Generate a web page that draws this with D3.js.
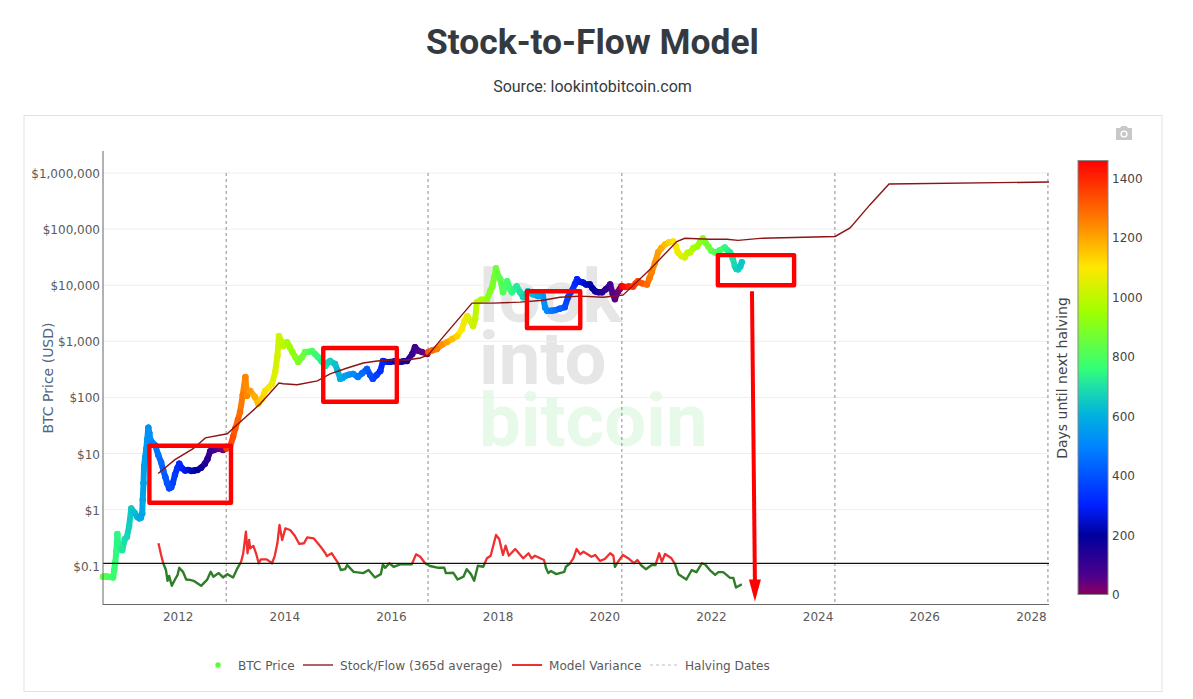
<!DOCTYPE html>
<html><head><meta charset="utf-8">
<script src="https://cdn.jsdelivr.net/npm/d3@7"></script>
<style>
html,body{margin:0;padding:0;background:#fff;overflow:hidden}
svg{display:block}
text{font-family:"DejaVu Sans",sans-serif}
</style></head><body><svg id="c" width="1193" height="699"></svg>
<script>
const btcYears=[
2010.59,2010.63,2010.68,2010.73,2010.78,2010.80,2010.82,2010.84,2010.86,2010.875,
2010.91,2010.95,2011.0,2011.04,2011.08,2011.12,2011.16,2011.19,2011.23,2011.27,
2011.30,2011.325,2011.335,2011.35,2011.36,2011.38,2011.40,2011.42,2011.44,2011.46,
2011.475,2011.52,2011.57,2011.625,2011.68,2011.72,2011.76,2011.79,2011.83,2011.87,
2011.90,2011.94,2011.98,2012.02,2012.07,2012.13,2012.19,2012.25,2012.30,2012.36,
2012.43,2012.50,2012.55,2012.60,2012.66,2012.72,2012.78,2012.84,2012.895,2012.905,
2012.97,2013.03,2013.07,2013.12,2013.16,2013.21,2013.26,2013.29,2013.35,2013.44,
2013.50,2013.57,2013.63,2013.70,2013.76,2013.82,2013.86,2013.89,2013.93,2013.97,
2014.04,2014.09,2014.14,2014.20,2014.25,2014.32,2014.38,2014.45,2014.51,2014.57,
2014.62,2014.69,2014.76,2014.81,2014.85,2014.94,2014.99,2015.04,2015.09,2015.13,
2015.20,2015.28,2015.37,2015.45,2015.54,2015.60,2015.65,2015.72,2015.79,2015.84,
2015.90,2015.97,2016.06,2016.16,2016.22,2016.29,2016.39,2016.44,2016.50,2016.57,
2016.67,2016.69,2016.76,2016.85,2016.95,2017.04,2017.14,2017.23,2017.32,2017.37,
2017.42,2017.48,2017.53,2017.57,2017.60,2017.68,2017.79,2017.85,2017.89,2017.93,
2017.96,2018.00,2018.04,2018.09,2018.13,2018.17,2018.21,2018.26,2018.30,2018.35,
2018.41,2018.47,2018.52,2018.56,2018.65,2018.75,2018.84,2018.88,2018.92,2019.00,
2019.07,2019.15,2019.25,2019.31,2019.36,2019.40,2019.44,2019.48,2019.53,2019.59,
2019.65,2019.72,2019.77,2019.82,2019.88,2019.95,2020.02,2020.10,2020.15,2020.19,
2020.24,2020.28,2020.31,2020.33,2020.38,2020.45,2020.53,2020.58,2020.62,2020.70,
2020.79,2020.84,2020.88,2020.94,2021.0,2021.06,2021.13,2021.20,2021.28,2021.33,
2021.37,2021.44,2021.50,2021.55,2021.60,2021.66,2021.73,2021.79,2021.84,2021.89,
2021.94,2022.00,2022.07,2022.16,2022.25,2022.30,2022.35,2022.40,2022.44,2022.47,
2022.50,2022.54,2022.57];
const btcPrices=[
.064,.065,.064,.063,.062,.085,.115,.18,.37,.24,
.21,.19,.3,.33,.51,1.05,.92,.86,.75,.7,
.72,.85,1.5,3,6,8.5,12,18,29,23,
18,15.5,14,9.5,7,5,3.8,3,2.4,2.5,
3,4.2,5.4,6.6,5.5,5,5.1,4.9,5,5.1,
5.6,6.6,8,11,11.5,12,12.2,11.6,12.5,12.3,
13,20,28,40,55,110,232,107,131,102,
77,95,131,150,175,285,550,1240,1000,825,
970,800,645,520,430,520,645,650,672,590,
526,440,364,420,447,395,300,214,225,242,
255,263,232,270,322,250,214,250,297,447,
430,430,440,430,440,447,594,790,680,645,
594,645,690,730,880,970,1100,1240,1650,2300,
2800,2300,1870,2500,4990,5500,5650,7800,9500,14000,
20000,15000,12800,7500,9500,11750,9000,7500,8500,9500,
7500,6100,7000,7800,6900,6400,6400,4000,3500,3500,
3600,3800,4070,6100,7500,8500,10500,12800,11500,11200,
10300,10300,8800,7800,7500,7500,8500,10300,7000,5650,
7500,8500,9500,9500,9300,9500,9500,10800,11750,10800,
10300,13500,17000,25000,38500,46000,53500,58000,60000,50000,
38500,33000,31400,38000,38500,46000,49000,60000,68000,57000,
49000,41000,38500,42000,47000,42000,38500,30000,21700,19500,
19200,21500,25700];
const s2fYears=[2011.625,2011.94,2012.28,2012.51,2012.92,2013.11,2013.54,2013.89,2013.97,2014.23,2014.61,2014.85,2015.17,2015.47,2015.73,2016.03,2016.29,2016.54,2016.69,2016.95,2017.51,2017.90,2018.41,2018.84,2019.16,2019.54,2019.97,2020.34,2020.85,2021.35,2021.50,2021.97,2022.29,2022.50,2022.91,2024.32,2024.60,2024.97,2025.33,2028.33];
const s2fValues=[4.4,7.8,12.2,19,22.5,33,77,181,175,168,197,263,335,411,447,465,465,505,570,1140,4800,4800,4990,5400,6100,6400,6100,6650,19200,60000,68500,66000,66000,63000,68500,74000,105000,270000,638000,690000];
const varYears=[
2011.63,2011.68,2011.72,2011.77,2011.80,2011.83,2011.88,2011.94,2011.99,2012.02,
2012.09,2012.15,2012.22,2012.29,2012.43,2012.54,2012.61,2012.66,2012.76,2012.84,
2012.92,2013.03,2013.11,2013.18,2013.22,2013.27,2013.30,2013.33,2013.35,2013.41,
2013.46,2013.51,2013.55,2013.66,2013.76,2013.81,2013.86,2013.90,2013.95,2014.01,
2014.10,2014.19,2014.27,2014.36,2014.42,2014.54,2014.66,2014.76,2014.79,2014.88,
2014.94,2015.00,2015.05,2015.13,2015.17,2015.29,2015.47,2015.57,2015.69,2015.80,
2015.84,2015.88,2015.96,2016.04,2016.16,2016.38,2016.46,2016.54,2016.63,2016.72,
2016.88,2016.99,2017.02,2017.16,2017.24,2017.35,2017.41,2017.49,2017.55,2017.62,
2017.72,2017.79,2017.86,2017.96,2018.02,2018.09,2018.14,2018.20,2018.32,2018.47,
2018.57,2018.63,2018.69,2018.79,2018.86,2018.90,2018.94,2018.99,2019.09,2019.24,
2019.27,2019.35,2019.41,2019.47,2019.54,2019.60,2019.75,2019.82,2019.91,2020.00,
2020.10,2020.16,2020.19,2020.23,2020.34,2020.46,2020.55,2020.61,2020.69,2020.77,
2020.88,2020.95,2021.02,2021.07,2021.13,2021.25,2021.32,2021.38,2021.53,2021.63,
2021.72,2021.82,2021.88,2021.97,2022.07,2022.13,2022.22,2022.35,2022.41,2022.46,
2022.57];
const varValues=[
.252,.156,.111,.084,.054,.066,.044,.057,.069,.092,
.078,.057,.056,.054,.044,.056,.078,.064,.074,.062,
.071,.062,.090,.118,.167,.405,.167,.288,.205,.226,
.167,.111,.130,.130,.111,.149,.252,.533,.288,.465,
.434,.34,.245,.252,.322,.309,.226,.167,.149,.167,
.136,.111,.084,.087,.103,.078,.074,.084,.062,.071,
.106,.092,.111,.096,.106,.106,.160,.145,.111,.099,
.092,.092,.074,.075,.057,.064,.087,.071,.054,.100,
.096,.136,.151,.354,.30,.156,.228,.151,.199,.136,
.167,.136,.151,.136,.127,.090,.074,.081,.071,.078,
.096,.111,.136,.199,.160,.178,.145,.156,.122,.132,
.167,.151,.096,.111,.156,.132,.111,.127,.100,.087,
.103,.103,.167,.118,.162,.136,.106,.071,.057,.084,
.077,.111,.106,.084,.069,.077,.077,.061,.061,.041,
.047];
const halvingYears=[2012.90,2016.686,2020.32,2024.315,2028.31];
const yearTicks=[2012,2014,2016,2018,2020,2022,2024,2026,2028];
const priceTicks=[1000000,100000,10000,1000,100,10,1,0.1];
const priceLabels=["$1,000,000","$100,000","$10,000","$1,000","$100","$10","$1","$0.1"];
const varianceBaseline=0.11;
const colorTicks=[0,200,400,600,800,1000,1200,1400];
const colorStops=[0,60,200,300,500,600,700,760,950,1100,1250,1460];
const colorValues=["#8a0060","#50008c","#00009e","#0020ff","#0085ff","#00b0e0","#1fe0a8","#33ff77","#a0ff00","#ffe800","#ff8400","#ff0000"];
// annotation boxes: year0, year1, priceHigh, priceLow
const boxYear0=[2011.46,2014.72,2018.54,2022.12];
const boxYear1=[2012.99,2016.10,2019.54,2023.55];
const boxHigh=[13.8,760,7830,34400];
const boxLow=[1.33,84,1725,10000];
const arrowYears=[2022.76,2022.815];
const arrowPrices=[7800,0.0232];

const svg=d3.select("#c");
const W={l:103,r:1049,t:151,b:604.5};
const x=d3.scaleLinear().domain([2010.59,2028.33]).range([W.l,W.r]);
const y=d3.scaleLog().domain([Math.pow(10,-1.69),Math.pow(10,6.392)]).range([W.b,W.t]);
const col=d3.scaleLinear().domain(colorStops).range(colorValues).clamp(true);
const bar=d3.scaleLinear().domain([0,1460]).range([594.5,160.5]);

svg.append("text").attr("x",592.5).attr("y",54).attr("text-anchor","middle")
  .style("font-family","Roboto").style("font-weight",700).style("font-size","35.4px").attr("fill","#343a40").text("Stock-to-Flow Model");
svg.append("text").attr("x",592.5).attr("y",92).attr("text-anchor","middle")
  .style("font-family","Roboto").style("font-size","16px").attr("fill","#343a40").text("Source: lookintobitcoin.com");
svg.append("rect").attr("x",24).attr("y",115.5).attr("width",1138).attr("height",576).attr("fill","#fff").attr("stroke","#dee2e6");

// watermark
const wm=svg.append("text").style("font-family","Roboto").style("font-weight",700).style("font-size","74.3px");
[["look",322,"#e6e6e6"],["into",384,"#e6e6e6"],["bitcoin",446,"#e7f9e8"]].forEach(d=>{
  wm.append("tspan").attr("x",479).attr("y",d[1]).attr("fill",d[2]).text(d[0]);
});

// camera icon
const cam=svg.append("g").attr("fill","#c8c8c8");
cam.append("path").attr("d","M1116 128h4l1.5-2h5l1.5 2h4v12h-16z");
cam.append("circle").attr("cx",1124).attr("cy",134).attr("r",3.6).attr("fill","#fff");
cam.append("circle").attr("cx",1124).attr("cy",134).attr("r",2.2);

// grid
svg.append("g").selectAll("line").data(priceTicks).join("line")
  .attr("x1",W.l).attr("x2",W.r).attr("y1",d=>y(d)).attr("y2",d=>y(d)).attr("stroke","#eeeeee");
// y labels
svg.append("g").selectAll("text").data(priceTicks).join("text")
  .attr("x",100).attr("y",d=>y(d)+5).attr("text-anchor","end").attr("font-size",12).attr("fill","#5a5a5a")
  .text((d,i)=>priceLabels[i]);
// x labels
svg.append("g").selectAll("text").data(yearTicks).join("text")
  .attr("x",d=>x(d)).attr("y",621).attr("text-anchor","middle").attr("font-size",12).attr("fill","#5a5a5a").text(d=>d);

// halvings
svg.append("g").selectAll("line").data(halvingYears).join("line")
  .attr("x1",d=>x(d)).attr("x2",d=>x(d)).attr("y1",y(1000000)).attr("y2",W.b)
  .attr("stroke","#8a8a8a").attr("stroke-dasharray","3,3");

// BTC price dots with connecting strokes
const pts=btcYears.map((t,i)=>({t,p:btcPrices[i],days:(halvingYears.find(h=>h>=t)-t)*365.25}));
const gBtc=svg.append("g");
gBtc.selectAll("line").data(d3.pairs(pts)).join("line")
  .attr("x1",d=>x(d[0].t)).attr("y1",d=>y(d[0].p)).attr("x2",d=>x(d[1].t)).attr("y2",d=>y(d[1].p))
  .attr("stroke",d=>col(d[1].days)).attr("stroke-width",6).attr("stroke-linecap","round");
gBtc.selectAll("circle").data(pts).join("circle")
  .attr("cx",d=>x(d.t)).attr("cy",d=>y(d.p)).attr("r",3.2).attr("fill",d=>col(d.days));

// stock to flow
const line=d3.line().x(d=>x(d[0])).y(d=>y(d[1]));
svg.append("path").attr("d",line(s2fYears.map((t,i)=>[t,s2fValues[i]])))
  .attr("fill","none").attr("stroke","#8b1414").attr("stroke-width",1.4);

// variance
const defs=svg.append("defs");
defs.append("clipPath").attr("id","above").append("rect").attr("x",W.l).attr("y",W.t).attr("width",W.r-W.l).attr("height",y(varianceBaseline)-W.t);
defs.append("clipPath").attr("id","below").append("rect").attr("x",W.l).attr("y",y(varianceBaseline)).attr("width",W.r-W.l).attr("height",W.b-y(varianceBaseline));
const varD=line(varYears.map((t,i)=>[t,varValues[i]]));
svg.append("path").attr("d",varD).attr("clip-path","url(#above)").attr("fill","none").attr("stroke","#f03030").attr("stroke-width",2.3).attr("stroke-linejoin","round");
svg.append("path").attr("d",varD).attr("clip-path","url(#below)").attr("fill","none").attr("stroke","#2f7d27").attr("stroke-width",2.4).attr("stroke-linejoin","round");
svg.append("line").attr("x1",W.l).attr("x2",W.r).attr("y1",y(varianceBaseline)).attr("y2",y(varianceBaseline)).attr("stroke","#111").attr("stroke-width",1.2);

// axes lines
svg.append("line").attr("x1",W.l).attr("x2",W.l).attr("y1",W.t).attr("y2",W.b+.5).attr("stroke","#666");
svg.append("line").attr("x1",W.l).attr("x2",W.r).attr("y1",W.b).attr("y2",W.b).attr("stroke","#666");

// axis title
svg.append("text").attr("transform","translate(53,378) rotate(-90)").attr("text-anchor","middle")
  .attr("font-size",14).attr("fill","#506784").text("BTC Price (USD)");

// annotation boxes
svg.append("g").selectAll("rect").data(boxYear0).join("rect")
  .attr("x",d=>x(d)).attr("width",(d,i)=>x(boxYear1[i])-x(d))
  .attr("y",(d,i)=>y(boxHigh[i])).attr("height",(d,i)=>y(boxLow[i])-y(boxHigh[i]))
  .attr("fill","none").attr("stroke","#ff0000").attr("stroke-width",4.4).attr("stroke-linejoin","round");
// arrow
svg.append("line").attr("x1",x(arrowYears[0])).attr("y1",y(arrowPrices[0])).attr("x2",x(arrowYears[1])).attr("y2",y(arrowPrices[1])-20)
  .attr("stroke","#ff0000").attr("stroke-width",4);
svg.append("path").attr("d",(()=>{const tx=x(arrowYears[1]),ty=y(arrowPrices[1]);return d3.line()([[tx,ty],[tx-6,ty-22],[tx+6,ty-22]])+"Z";})()).attr("fill","#ff0000");

// colorbar
const grad=defs.append("linearGradient").attr("id","cb").attr("x1",0).attr("x2",0).attr("y1",1).attr("y2",0);
colorStops.forEach((s,i)=>grad.append("stop").attr("offset",s/1460).attr("stop-color",colorValues[i]));
svg.append("rect").attr("x",1078).attr("y",bar(1460)).attr("width",30).attr("height",bar(0)-bar(1460))
  .attr("fill","url(#cb)").attr("stroke","#888").attr("stroke-width",1);
svg.append("g").selectAll("text").data(colorTicks).join("text")
  .attr("x",1112).attr("y",d=>bar(d)+4.5).attr("font-size",12).attr("fill","#444").text(d=>d);
svg.append("text").attr("transform","translate(1067,378) rotate(-90)").attr("text-anchor","middle")
  .attr("font-size",14).attr("fill","#444").text("Days until next halving");

// legend
const lg=svg.append("g");
lg.append("circle").attr("cx",218).attr("cy",665).attr("r",2.7).attr("fill","#55ff33");
lg.append("line").attr("x1",303).attr("x2",333).attr("y1",665).attr("y2",665).attr("stroke","#a03c3c").attr("stroke-width",1.6);
lg.append("line").attr("x1",512).attr("x2",542).attr("y1",665).attr("y2",665).attr("stroke","#f03030").attr("stroke-width",2);
lg.append("line").attr("x1",650).attr("x2",680).attr("y1",665).attr("y2",665).attr("stroke","#bbb").attr("stroke-width",1).attr("stroke-dasharray","3,3");
[[238,"BTC Price"],[340,"Stock/Flow (365d average)"],[549,"Model Variance"],[685,"Halving Dates"]].forEach(d=>{
  lg.append("text").attr("x",d[0]).attr("y",669.5).attr("font-size",12.1).attr("fill","#5a5a5a").text(d[1]);
});
</script></body></html>
